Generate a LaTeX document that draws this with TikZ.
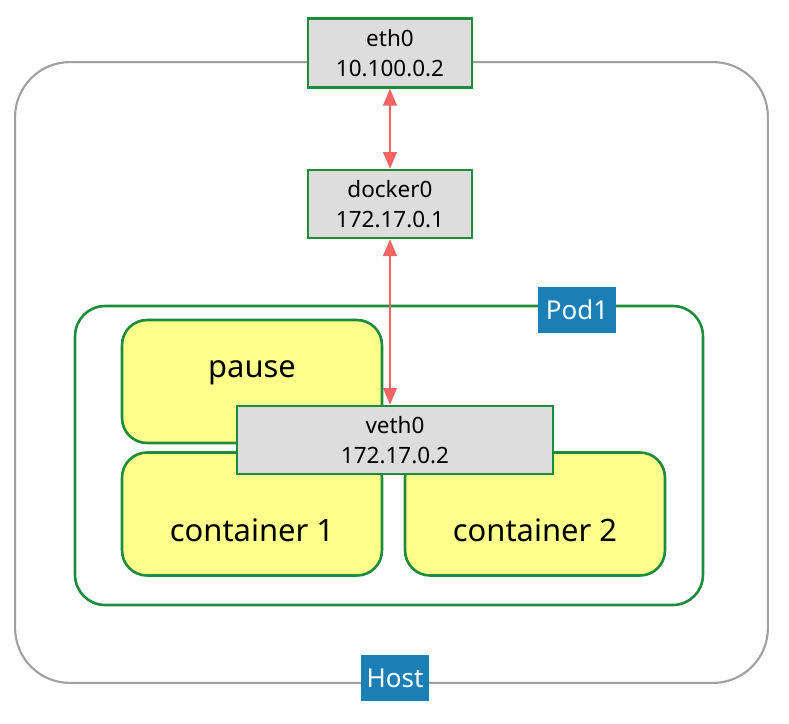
\documentclass[tikz,border=0pt]{standalone}
\usepackage{fontspec}
\setmainfont{Noto Sans}
\usetikzlibrary{shapes.geometric, arrows}
\definecolor{boxgreen}{RGB}{30,140,60}
\definecolor{ifgray}{RGB}{221,221,221}
\definecolor{ctyellow}{RGB}{255,255,140}
\definecolor{tagblue}{RGB}{27,126,180}
\definecolor{linkred}{RGB}{240,100,100}
\definecolor{hostgray}{RGB}{160,160,160}
\tikzstyle{iface} = [rectangle, minimum width=3.28cm, minimum height=1.38cm, text centered, align=center, draw=boxgreen, line width=1.5pt, fill=ifgray, font=\fontsize{12.8}{17}\selectfont]
\tikzstyle{container} = [rectangle, rounded corners=0.5cm, minimum width=5.2cm, minimum height=2.46cm, draw=boxgreen, line width=1.5pt, fill=ctyellow]
\tikzstyle{cname} = [font=\fontsize{17.6}{20}\selectfont, anchor=center]
\tikzstyle{tag} = [rectangle, fill=tagblue, text=white, font=\fontsize{14.8}{18}\selectfont, minimum height=0.92cm, inner xsep=0pt]
\tikzstyle{link} = [linkred, line width=1.2pt, <->, >=triangle 45]

\begin{document}
\begin{tikzpicture}
[x=0.02cm, y=-0.02cm]
\useasboundingbox (0,0) rectangle (789,724);

% host and pod frames
\node (host) [rectangle, rounded corners=1.1cm, draw=hostgray, line width=1.2pt, minimum width=15.06cm, minimum height=12.42cm] at (391.5,372.5) {};
\node (pod) [rectangle, rounded corners=0.6cm, draw=boxgreen, line width=1.5pt, minimum width=12.56cm, minimum height=5.98cm] at (389,455.5) {};
\node (hosttag) [tag, minimum width=1.38cm] at (395,678) {Host};
\node (podtag) [tag, minimum width=1.56cm] at (577,310) {Pod1};

% containers
\node (pause) [container, label={[cname, yshift=0.17cm]center:pause}] at (252,381.5) {};
\node (ct1) [container, label={[cname, yshift=-0.32cm]center:container 1}] at (252,514) {};
\node (ct2) [container, label={[cname, yshift=-0.32cm]center:container 2}] at (535,514) {};

% interfaces
\node (eth0) [iface] at (390,53) {eth0\\10.100.0.2};
\node (docker0) [iface, minimum height=1.36cm] at (390,204) {docker0\\172.17.0.1};
\node (veth0) [iface, minimum width=6.32cm, minimum height=1.36cm] at (395,440) {veth0\\172.17.0.2};

\draw [link] (eth0) -- (docker0);
\draw [link] (docker0) -- (docker0 |- veth0.north);
\end{tikzpicture}
\end{document}
